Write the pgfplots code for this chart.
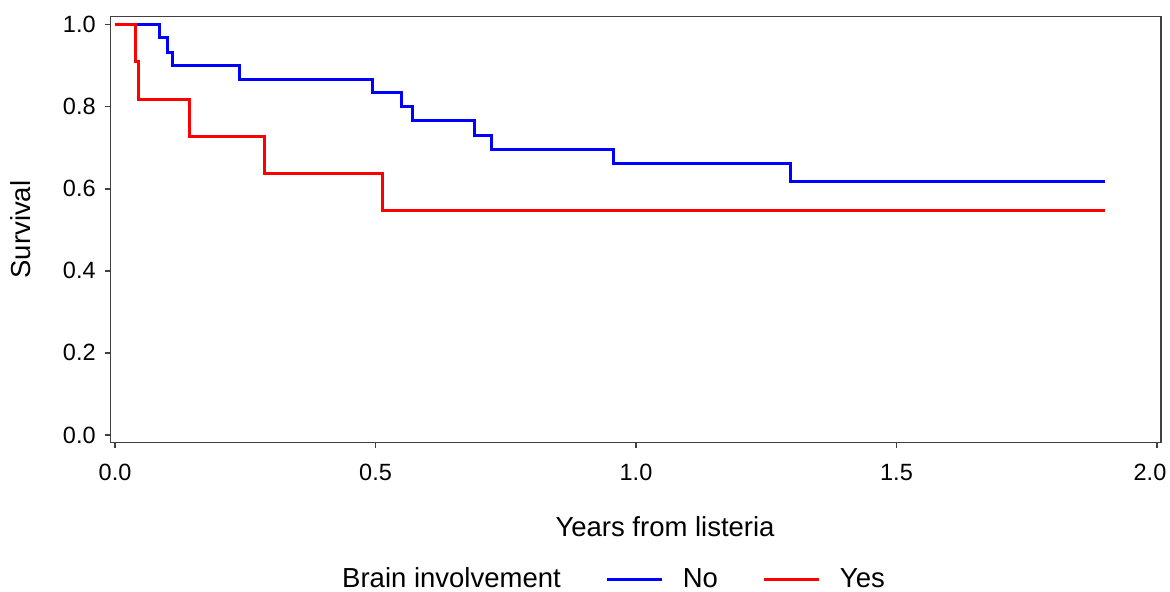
\documentclass[border=0pt]{standalone}
\usepackage{pgfplots}
\pgfplotsset{compat=1.18}
\usepackage{fontspec}
\setmainfont{Liberation Sans}
\begin{document}
\begin{tikzpicture}
\begin{axis}[
  name=ax,
  scale only axis,
  width=525.15pt, height=212.8pt,
  xmin=-0.0083, xmax=2.0077,
  ymin=-0.018, ymax=1.0195,
  xtick={0,0.5,1,1.5},
  extra x ticks={2},
  extra x tick style={xticklabel style={xshift=-3.5pt}},
  ytick={0,0.2,0.4,0.6,0.8,1.0},
  tick align=outside,
  major tick length=3pt,
  xtick pos=bottom, ytick pos=left,
  axis line style={black!75, line width=0.75pt},
  tick style={black!75, line width=0.75pt},
  every tick label/.append style={font=\fontsize{11.75}{14}\selectfont, text=black},
  /pgf/number format/assume math mode=true,
  /pgf/number format/.cd, fixed, fixed zerofill, precision=1,
  /pgfplots/.cd,
  xticklabel style={yshift=-4.5pt},
  yticklabel style={xshift=-1pt},
  ylabel={Survival},
  ylabel style={font=\fontsize{13.75}{16}\selectfont, at={(axis description cs:-0.0854,0.5)}, anchor=center},
  xlabel={Years from listeria},
  xlabel style={font=\fontsize{13.75}{16}\selectfont, at={(axis description cs:0.5278,-0.2218)}, anchor=base},
  legend columns=-1,
  legend style={draw=none, fill=none, at={(axis description cs:0.4716,-0.322)}, anchor=center,
    font=\fontsize{13.75}{16}\selectfont,
    /tikz/every odd column/.append style={column sep=7.5pt},
    /tikz/every even column/.append style={column sep=20.5pt}},
  legend image code/.code={\draw[#1, line width=1.5pt] (0pt,0pt) -- (27.5pt,0pt);},
]
\addlegendimage{empty legend}
\addlegendentry{Brain involvement}
\addplot[const plot, blue, line width=1.5pt] coordinates {
(0,1) (0.0845,0.968) (0.100,0.933) (0.111,0.901) (0.239,0.867) (0.495,0.834) (0.550,0.800) (0.571,0.766) (0.690,0.731) (0.722,0.697) (0.956,0.661) (1.296,0.617) (1.900,0.617)
};
\addlegendentry{No}
\addplot[const plot, red, line width=1.5pt] coordinates {
(0,1) (0.040,0.910) (0.0455,0.818) (0.143,0.728) (0.287,0.637) (0.513,0.548) (1.900,0.548)
};
\addlegendentry{Yes}
\end{axis}
\pgfresetboundingbox
\path[use as bounding box] ([shift={(-55.35pt,-74.35pt)}]ax.south west) rectangle ([shift={(4.5pt,8.35pt)}]ax.north east);
\end{tikzpicture}
\end{document}
